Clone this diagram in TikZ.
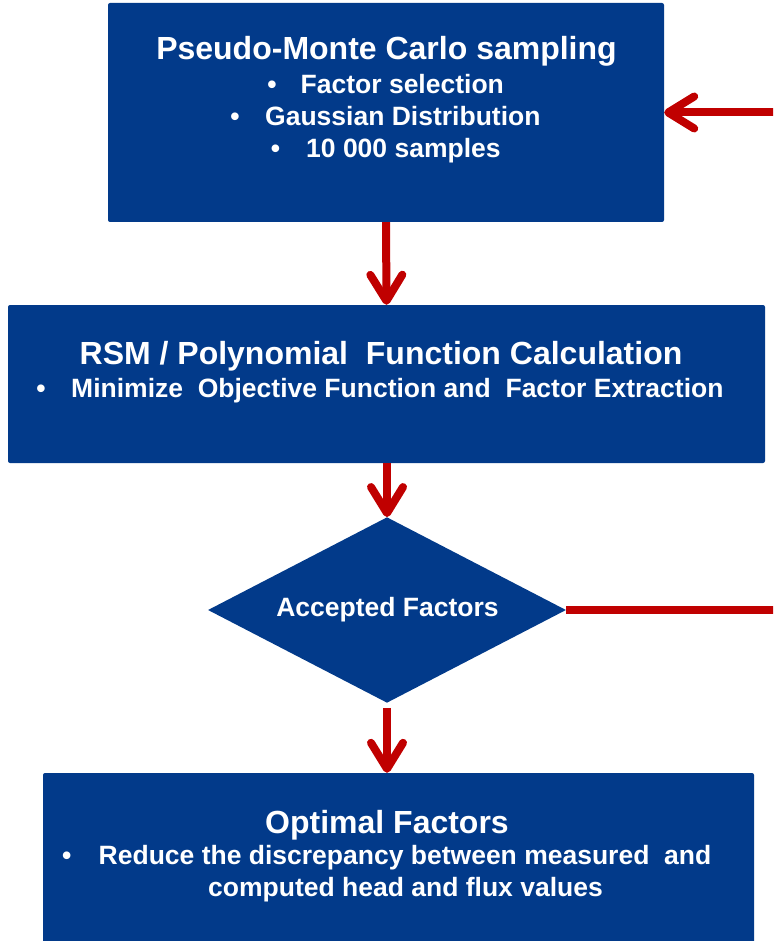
\documentclass[tikz,border=0pt]{standalone}
\usepackage{fontspec}
\setmainfont{Liberation Sans}
\usetikzlibrary{shapes.geometric,arrows.meta}
\definecolor{boxblue}{HTML}{023A8A}
\definecolor{arrred}{HTML}{C00000}
\begin{document}
\begin{tikzpicture}[x=1pt,y=-1pt,
  box/.style={fill=boxblue, rounded corners=2pt, inner sep=0pt},
  big/.style={text=white, inner sep=0pt, font=\fontsize{32}{38}\selectfont\bfseries},
  small/.style={text=white, inner sep=0pt, font=\fontsize{26.5}{32}\selectfont\bfseries},
  flow/.style={draw=arrred, line width=8pt, -{Straight Barb[length=26pt,width=32pt,round]}}
]
\path[use as bounding box] (0,0) rectangle (773,941);
\clip (0,0) rectangle (773,941);

% boxes
\node[box, minimum width=556pt, minimum height=219pt] (b1) at (386,112.5) {};
\node[box, minimum width=757pt, minimum height=158pt] (b2) at (386.5,384) {};
\node[diamond, fill=boxblue, inner sep=0pt, minimum width=358pt, minimum height=185.5pt] (d) at (387,610) {};
\node[box, minimum width=711pt, minimum height=187pt] (b4) at (398.5,866.5) {};

% texts box 1
\node[big, anchor=base] (t1) at (386.5,60) {Pseudo-Monte Carlo sampling};
\node[small, anchor=base] (t1b1) at (272,93.7) {•};
\node[small, anchor=base west] (t1l1) at (300.5,93.7) {Factor selection};
\node[small, anchor=base] (t1b2) at (235,125.3) {•};
\node[small, anchor=base west] (t1l2) at (265,125.3) {Gaussian Distribution};
\node[small, anchor=base] (t1b3) at (275.5,157.7) {•};
\node[small, anchor=base west] (t1l3) at (306,157.7) {10 000 samples};

% texts box 2
\node[big, anchor=base] (t2) at (381,364) {RSM / Polynomial\ \ Function Calculation};
\node[small, anchor=base] (t2b) at (41,397) {•};
\node[small, anchor=base west] (t2l) at (71,397) {Minimize\ \ Objective Function and\ \ Factor Extraction};

% diamond text
\node[small, anchor=base] (t3) at (387.5,616) {Accepted Factors};

% texts box 4
\node[big, anchor=base] (t4) at (387,833) {Optimal Factors};
\node[small, anchor=base] (t4b) at (66.7,864) {•};
\node[small, anchor=base west] (t4l1) at (98.5,864) {Reduce the discrepancy between measured\ \ and};
\node[small, anchor=base] (t4l2) at (405.5,896) {computed head and flux values};

% connectors
\draw[flow] (b1.south) -- (b2.north);
\draw[flow] (b2.south -| d.north) -- (d.north);
\draw[flow, shorten <=5pt] (d.south) -- (d.south |- b4.north);
\draw[flow] (d.east) -- ++(250,0) |- (b1.east);
\end{tikzpicture}
\end{document}
